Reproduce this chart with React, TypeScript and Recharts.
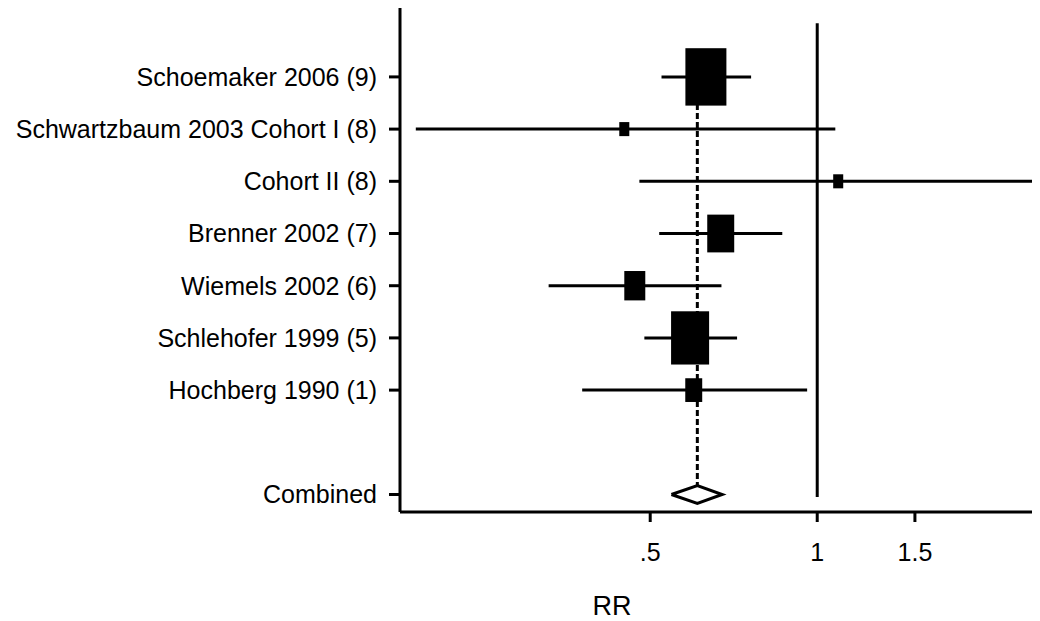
import React from 'react';
import { ScatterChart, Scatter, XAxis, YAxis, ReferenceLine } from 'recharts';

// study rows, top to bottom
const studies = [
    'Schoemaker 2006 (9)',
    'Schwartzbaum 2003 Cohort I (8)',
    'Cohort II (8)',
    'Brenner 2002 (7)',
    'Wiemels 2002 (6)',
    'Schlehofer 1999 (5)',
    'Hochberg 1990 (1)',
];
const rowPos = [9, 8, 7, 6, 5, 4, 3];
const rr = [0.63, 0.449, 1.091, 0.67, 0.469, 0.59, 0.599];
const lower = [0.524, 0.189, 0.478, 0.519, 0.328, 0.488, 0.377];
const upper = [0.76, 1.078, 3.0, 0.865, 0.672, 0.717, 0.959];
const weights = [35.1, 2.1, 2.1, 15.2, 9.2, 30.2, 6.0];

const combinedLabel = 'Combined';
const combinedPos = 1;
const combinedRR = 0.608;
const combinedLower = 0.546;
const combinedUpper = 0.674;

const xTicks = [0.5, 1, 1.5];
const xTickLabels = ['.5', '1', '1.5'];
const xTitle = 'RR';

const FONT = '"Liberation Sans", Arial, sans-serif';
const DIAMOND_HALF = 0.17;

const points = studies.map((s, i) => ({ x: rr[i], y: rowPos[i], w: weights[i], name: s }));

const diamond = [
    { x: combinedLower, y: combinedPos },
    { x: combinedRR, y: combinedPos + DIAMOND_HALF },
    { x: combinedUpper, y: combinedPos },
    { x: combinedRR, y: combinedPos - DIAMOND_HALF },
    { x: combinedLower, y: combinedPos },
];

const rowLabels: Record<number, string> = { [combinedPos]: combinedLabel };
studies.forEach((s, i) => {
    rowLabels[rowPos[i]] = s;
});

const Box = (props: any) => {
    const { cx, cy, payload } = props;
    const w = 6.92 * Math.sqrt(payload.w);
    const h = w * 1.4;
    return <rect x={cx - w / 2} y={cy - h / 2} width={w} height={h} fill="#000" />;
};

const AxisTitle = (props: any) => {
    const { x, y, width, height } = props.viewBox;
    return (
        <text x={x + width / 2 - 107} y={y + height - 6} textAnchor="middle" fill="#000" fontSize={27} fontFamily={FONT}>
            {xTitle}
        </text>
    );
};

const App = () => {
    return (
        <div style={{ width: 1032, height: 613 }}>
            <ScatterChart width={1032} height={613} margin={{ top: 0, right: 2, left: 0, bottom: 0 }}>
                <XAxis
                    type="number"
                    dataKey="x"
                    scale="log"
                    domain={[0.177, 2.5]}
                    allowDataOverflow
                    ticks={xTicks}
                    tickFormatter={(v: number) => xTickLabels[xTicks.indexOf(v)] ?? String(v)}
                    height={109}
                    tickSize={10}
                    tickMargin={21}
                    axisLine={{ stroke: '#000', strokeWidth: 3 }}
                    tickLine={{ stroke: '#000', strokeWidth: 3 }}
                    tick={{ fill: '#000', fontSize: 25, fontFamily: FONT }}
                    label={AxisTitle}
                />
                <YAxis
                    type="number"
                    dataKey="y"
                    domain={[0.665, 10.32]}
                    allowDataOverflow
                    ticks={[1, 3, 4, 5, 6, 7, 8, 9]}
                    tickFormatter={(v: number) => rowLabels[v] ?? ''}
                    width={392}
                    tickSize={11}
                    tickMargin={12}
                    interval={0}
                    axisLine={{ stroke: '#000', strokeWidth: 3 }}
                    tickLine={{ stroke: '#000', strokeWidth: 3 }}
                    tick={{ fill: '#000', fontSize: 25, fontFamily: FONT }}
                />
                <ReferenceLine
                    segment={[{ x: 1, y: 10.03 }, { x: 1, y: 0.95 }]}
                    stroke="#000"
                    strokeWidth={3}
                    ifOverflow="hidden"
                />
                <ReferenceLine
                    segment={[{ x: combinedRR, y: 9 }, { x: combinedRR, y: combinedPos + DIAMOND_HALF }]}
                    stroke="#000"
                    strokeWidth={3}
                    strokeDasharray="6 3"
                    ifOverflow="hidden"
                />
                {studies.map((s, i) => (
                    <ReferenceLine
                        key={s}
                        segment={[{ x: lower[i], y: rowPos[i] }, { x: upper[i], y: rowPos[i] }]}
                        stroke="#000"
                        strokeWidth={3}
                        ifOverflow="hidden"
                    />
                ))}
                <Scatter data={points} shape={Box} isAnimationActive={false} />
                <Scatter
                    data={diamond}
                    line={{ stroke: '#000', strokeWidth: 3 }}
                    lineJointType="linear"
                    shape={() => <g />}
                    isAnimationActive={false}
                />
            </ScatterChart>
        </div>
    );
};

export default App;
